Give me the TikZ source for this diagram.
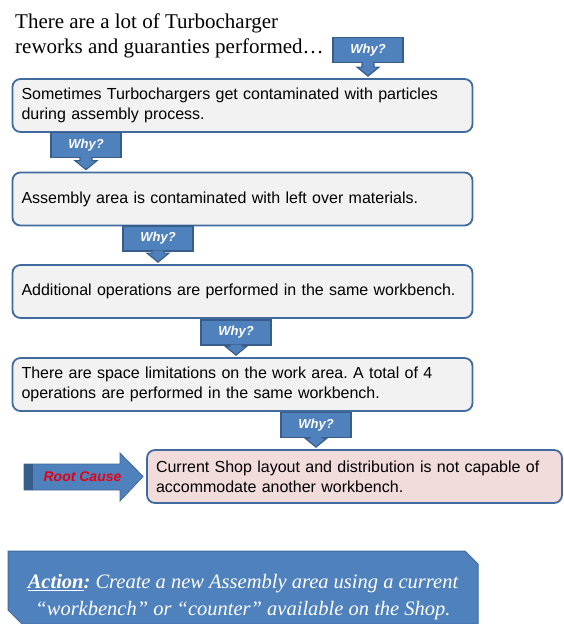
\documentclass[tikz,border=0pt]{standalone}
\usepackage{fontspec}
\setmainfont{Liberation Serif}
\newfontfamily\boxfont{Liberation Sans}
\usetikzlibrary{calc}
\frenchspacing
\definecolor{mblue}{RGB}{79,129,189}
\definecolor{mdark}{RGB}{56,93,138}
\definecolor{medge}{RGB}{65,106,158}
\definecolor{mgray}{RGB}{242,242,242}
\definecolor{mpink}{RGB}{242,220,219}
\definecolor{mred}{RGB}{230,0,18}
\tikzset{reason/.style = {draw=medge, line width=1.8pt, fill=mgray, rounded corners=8pt,
                          minimum height=53pt, text width=442pt, inner xsep=9pt, align=left,
                          font=\boxfont\fontsize{16}{20}\selectfont}}
\tikzset{why/.style = {draw=mdark, line width=1.2pt, fill=mblue, minimum width=70pt,
                       minimum height=25pt, inner sep=0, text=white,
                       font=\boxfont\bfseries\itshape\fontsize{13}{15}\selectfont}}
\tikzset{whytip/.style = {draw=mdark, line width=1.2pt, fill=mblue, line join=miter}}
\tikzset{action/.style = {align=center, text=white, inner sep=0,
                          font=\itshape\fontsize{20.5}{27}\selectfont}}
\newcommand{\whyarrow}[2]{%
  \path (#1.south |- #2.north) ++(0,-2) coordinate (tip);
  \filldraw[whytip] ([xshift=-6pt,yshift=1pt]#1.south) -- ([xshift=-6pt,yshift=9pt]tip)
    -- ([xshift=-11pt,yshift=9pt]tip) -- (tip) -- ([xshift=11pt,yshift=9pt]tip)
    -- ([xshift=6pt,yshift=9pt]tip) -- ([xshift=6pt,yshift=1pt]#1.south);}

\begin{document}
\begin{tikzpicture}[x=1pt, y=-1pt]
    \useasboundingbox (0,0) rectangle (564,624);

    \node [anchor=north west, inner sep=0, align=left, font=\fontsize{21}{25}\selectfont] (title) at (15,13.5)
      {There are a lot of Turbocharger\\reworks and guaranties performed…};

    \node [reason] (b1) at (242.5,105.5) {Sometimes Turbochargers get contaminated with particles\\during assembly process.};
    \node [reason] (b2) at (242.5,199) {Assembly area is contaminated with left over materials.};
    \node [reason] (b3) at (242.5,291.5) {Additional operations are performed in the same workbench.};
    \node [reason] (b4) at (242.5,384.5) {There are space limitations on the work area. A total of~4\\operations are performed in the same workbench.};
    \node [reason, fill=mpink, text width=397pt] (b5) at (354.5,476.5) {Current Shop layout and distribution is not capable of\\accommodate another workbench.};

    \node [why] (w1) at (368,50) {Why?};
    \node [why] (w2) at (86,145) {Why?};
    \node [why] (w3) at (158,238.5) {Why?};
    \node [why] (w4) at (236,332.5) {Why?};
    \node [why] (w5) at (316,425) {Why?};

    \whyarrow{w1}{b1}
    \whyarrow{w2}{b2}
    \whyarrow{w3}{b3}
    \whyarrow{w4}{b4}
    \whyarrow{w5}{b5}

    \filldraw [fill=mblue, draw=medge, line width=0.8pt] (24,464) -- (120,464) -- (120,453)
      -- ([xshift=-3pt]b5.west) -- (120,501) -- (120,490) -- (24,490) -- cycle;
    \fill [mdark] (24.4,464.4) rectangle (33,489.6);
    \node [text=mred, font=\boxfont\bfseries\itshape\fontsize{14}{16}\selectfont] (rc) at (82.5,477) {Root Cause};

    \filldraw [fill=mblue, draw=medge, line width=1pt] (8,551) -- (465,551) -- (478,564) -- (478,624)
      -- (22,624) -- (8,610) -- cycle;
    \node [action] (act) at (243,597) {\textbf{\underline{Action}:} Create a new Assembly area using a current\\“workbench” or “counter” available on the Shop.};
\end{tikzpicture}
\end{document}
